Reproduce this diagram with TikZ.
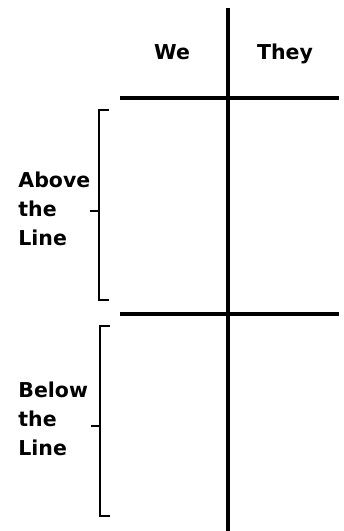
\documentclass[tikz,border=0pt]{standalone}
\usepackage{fontspec}
\setmainfont{DejaVu Sans}
\usetikzlibrary{positioning}
\newcommand{\labelfont}{\bfseries\fontsize{20.5}{29}\selectfont}

\begin{document}
\begin{tikzpicture}[x=1pt, y=-1pt, thick]
    \tikzset{headtext/.style={inner sep=0, font=\labelfont}}
    \useasboundingbox (0,0) rectangle (344,531);
    \coordinate (T) at (228,8);
    \coordinate (Bo) at (228,531);
    \coordinate (A1) at (120,98);
    \coordinate (A2) at (339,98);
    \coordinate (M1) at (120,314);
    \coordinate (M2) at (339,314);
    \draw[line width=4pt] (T) -- (Bo);
    \draw[line width=4pt] (A1) -- (A2);
    \draw[line width=4pt] (M1) -- (M2);
    % brackets
    \draw[line width=2pt] (109,110) -- (99,110) -- (99,300) -- (109,300);
    \draw[line width=2pt] (90,211) -- (99,211);
    \draw[line width=2pt] (110,326) -- (100,326) -- (100,516) -- (110,516);
    \draw[line width=2pt] (91,426) -- (100,426);
    \node[headtext, anchor=base] (we) at (172,59) {\labelfont We};
    \node[headtext, anchor=base] (they) at (285,59) {\labelfont They};
    \node[headtext, anchor=base west, align=left] (above) at (18,245) {\labelfont Above\\the\\Line};
    \node[headtext, anchor=base west, align=left] (below) at (18,455) {\labelfont Below\\the\\Line};
\end{tikzpicture}
\end{document}
